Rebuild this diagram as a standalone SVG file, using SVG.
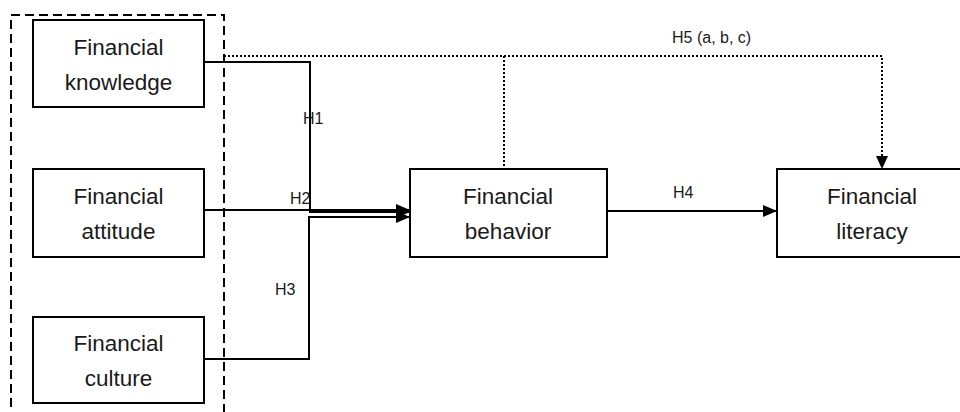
<svg xmlns="http://www.w3.org/2000/svg" width="960" height="412" viewBox="0 0 960 412">
<defs>
<style>
.box{fill:#fff;stroke:#000;stroke-width:2}
.t{font-family:"Liberation Sans",Arial,sans-serif;font-size:22.5px;fill:#1a1a1a;text-anchor:middle}
.lbl{font-family:"Liberation Sans",Arial,sans-serif;font-size:16px;fill:#1a1a1a}
.ln{fill:none;stroke:#000;stroke-width:2}
.dot{fill:none;stroke:#000;stroke-width:2;stroke-dasharray:2 2}
.dash{fill:none;stroke:#000;stroke-width:2;stroke-dasharray:9 5}
</style>
<marker id="ah" viewBox="0 0 14 12" refX="14" refY="6" markerWidth="14" markerHeight="12" markerUnits="userSpaceOnUse" orient="auto">
<path d="M0,0 L14,6 L0,12 Z" fill="#000"/>
</marker>
</defs>
<rect class="dash" x="11" y="15" width="213" height="410"/>
<g id="connectors">
<polyline class="dot" points="224,56 882,56 882,156"/>
<path d="M876,156 L888,156 L882,169 Z" fill="#000"/>
<line class="dot" x1="504" y1="56" x2="504" y2="168"/>
<polyline class="ln" points="204,62 310,62 310,212 410,212" stroke-width="3" marker-end="url(#ah)"/>
<line class="ln" x1="204" y1="210" x2="410" y2="210" marker-end="url(#ah)"/>
<polyline class="ln" points="204,359 309,359 309,217 410,217" marker-end="url(#ah)"/>
<line class="ln" x1="607" y1="211" x2="777" y2="211" marker-end="url(#ah)"/>
<text class="lbl" x="303" y="124">H1</text>
<text class="lbl" x="290" y="204">H2</text>
<text class="lbl" x="275" y="295">H3</text>
<text class="lbl" x="673" y="198">H4</text>
<text class="lbl" x="672" y="43">H5 (a, b, c)</text>
</g>
<g id="knowledge">
<rect class="box" x="33" y="20" width="171" height="87"/>
<text class="t" x="118.5" y="55">Financial</text>
<text class="t" x="118.5" y="90">knowledge</text>
</g>
<g id="attitude">
<rect class="box" x="33" y="169" width="171" height="88"/>
<text class="t" x="118.5" y="204">Financial</text>
<text class="t" x="118.5" y="239">attitude</text>
</g>
<g id="culture">
<rect class="box" x="33" y="317" width="171" height="86"/>
<text class="t" x="118.5" y="351">Financial</text>
<text class="t" x="118.5" y="386">culture</text>
</g>
<g id="behavior">
<rect class="box" x="410" y="169" width="197" height="88"/>
<text class="t" x="508" y="204">Financial</text>
<text class="t" x="508" y="239">behavior</text>
</g>
<g id="literacy">
<rect class="box" x="777" y="169" width="195" height="88"/>
<text class="t" x="872" y="204">Financial</text>
<text class="t" x="872" y="239">literacy</text>
</g>
</svg>
